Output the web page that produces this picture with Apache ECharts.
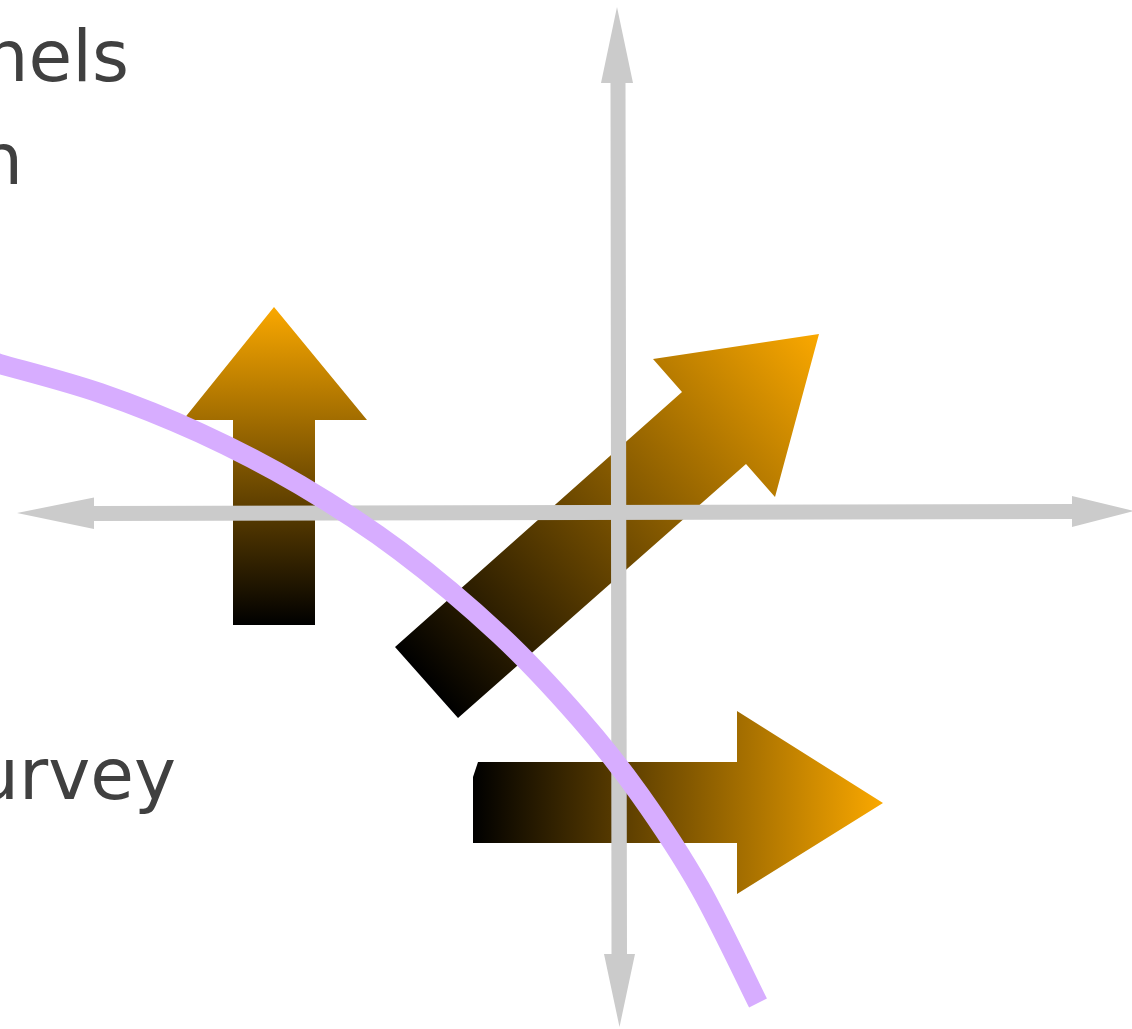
<!DOCTYPE html>
<html>
<head>
<meta charset="utf-8">
<script src="https://cdn.jsdelivr.net/npm/echarts@6/dist/echarts.min.js"></script>
<style>
html,body{margin:0;padding:0;background:#fff;}
#chart{width:1132px;height:1029px;}
</style>
</head>
<body>
<div id="chart"></div>
<script>
// Text lines (right-aligned, clipped at the left edge in the reference)
const textLines = ['nels', 'n', 'urvey'];

// Shapes in diagram units (x to the right, y downward)
const upArrow = [[274,307],[367,420],[315,420],[315,625],[233,625],[233,420],[183,420]];
const diagArrow = [[395,647],[682,392],[653,359],[819,334],[775,497],[746,464],[458,718]];
const rightArrow = [[478,762],[737,762],[737,711],[883,803],[737,894],[737,843],[473,843],[473,777]];
const hAxisArrow = [[17,513],[94,497.5],[94,506],[1072,504],[1072,496],[1134,511],[1072,527],[1072,519],[94,521],[94,529]];
const vAxisArrow = [[617,7],[633,83],[625.5,83],[627,954],[635,954],[619.5,1027],[604,954],[611.5,954],[610.5,83],[601,83]];

// Lilac curve
const curveX = [-20, 0, 100, 200, 300, 400, 500, 580, 640, 700, 758];
const curveY = [358, 364, 393, 433, 485, 551, 635, 719, 795, 888, 1003];

const chart = echarts.init(document.getElementById('chart'), null, {renderer: 'canvas'});

function polySeries(name, pts, fill, z, grad) {
  return {
    type: 'custom', name: name, z: z, silent: true, clip: false,
    coordinateSystem: 'cartesian2d',
    data: pts, encode: {x: 0, y: 1},
    renderItem: function (params, api) {
      if (params.dataIndex !== 0) return;
      const p = pts.map(function (d) { return api.coord(d); });
      let f = fill;
      if (grad) {
        const a = api.coord(grad[0]), b = api.coord(grad[1]);
        f = new echarts.graphic.LinearGradient(a[0], a[1], b[0], b[1], [
          {offset: 0, color: '#000000'},
          {offset: 1, color: '#FAA800'}
        ], true);
      }
      return {type: 'polygon', shape: {points: p}, style: {fill: f}};
    }
  };
}

// Catmull-Rom through the given pixel points -> cubic bezier path
function smoothPath(p) {
  let d = 'M' + p[0][0] + ' ' + p[0][1];
  for (let i = 0; i < p.length - 1; i++) {
    const p0 = p[i - 1] || p[i], p1 = p[i], p2 = p[i + 1], p3 = p[i + 2] || p[i + 1];
    const c1 = [p1[0] + (p2[0] - p0[0]) / 6, p1[1] + (p2[1] - p0[1]) / 6];
    const c2 = [p2[0] - (p3[0] - p1[0]) / 6, p2[1] - (p3[1] - p1[1]) / 6];
    d += ' C' + c1[0] + ' ' + c1[1] + ' ' + c2[0] + ' ' + c2[1] + ' ' + p2[0] + ' ' + p2[1];
  }
  return d;
}

const curveData = curveX.map(function (x, i) { return [x, curveY[i]]; });

const textPos = [[129, 98], [23, 201], [176, 816]];

const option = {
  backgroundColor: '#ffffff',
  animation: false,
  grid: {left: 0, right: 0, top: 0, bottom: 0, containLabel: false},
  xAxis: {type: 'value', min: 0, max: 1132, show: false},
  yAxis: {type: 'value', min: 0, max: 1029, inverse: true, show: false},
  series: [
    polySeries('up', upArrow, null, 2, [[274,625],[274,307]]),
    polySeries('diag', diagArrow, null, 2, [[426,682],[819,334]]),
    polySeries('right', rightArrow, null, 2, [[473,803],[883,803]]),
    polySeries('hAxis', hAxisArrow, '#CBCBCB', 3),
    polySeries('vAxis', vAxisArrow, '#CBCBCB', 3),
    {
      type: 'custom', name: 'curve', z: 4, silent: true, clip: false,
      coordinateSystem: 'cartesian2d',
      data: curveData, encode: {x: 0, y: 1},
      renderItem: function (params, api) {
        if (params.dataIndex !== 0) return;
        const p = curveData.map(function (d) { return api.coord(d); });
        return {
          type: 'path',
          shape: {pathData: smoothPath(p)},
          style: {fill: null, stroke: '#D7ADFF', lineWidth: 20, lineCap: 'butt', lineJoin: 'round'}
        };
      }
    }
  ],
  graphic: textLines.map(function (t, i) {
    return {
      type: 'text', z: 10, x: textPos[i][0], y: textPos[i][1],
      style: {
        text: t, fill: '#404040', fontSize: 71,
        fontFamily: 'DejaVu Sans', align: 'right', verticalAlign: 'bottom'
      }
    };
  })
};
chart.setOption(option);
</script>
</body>
</html>
